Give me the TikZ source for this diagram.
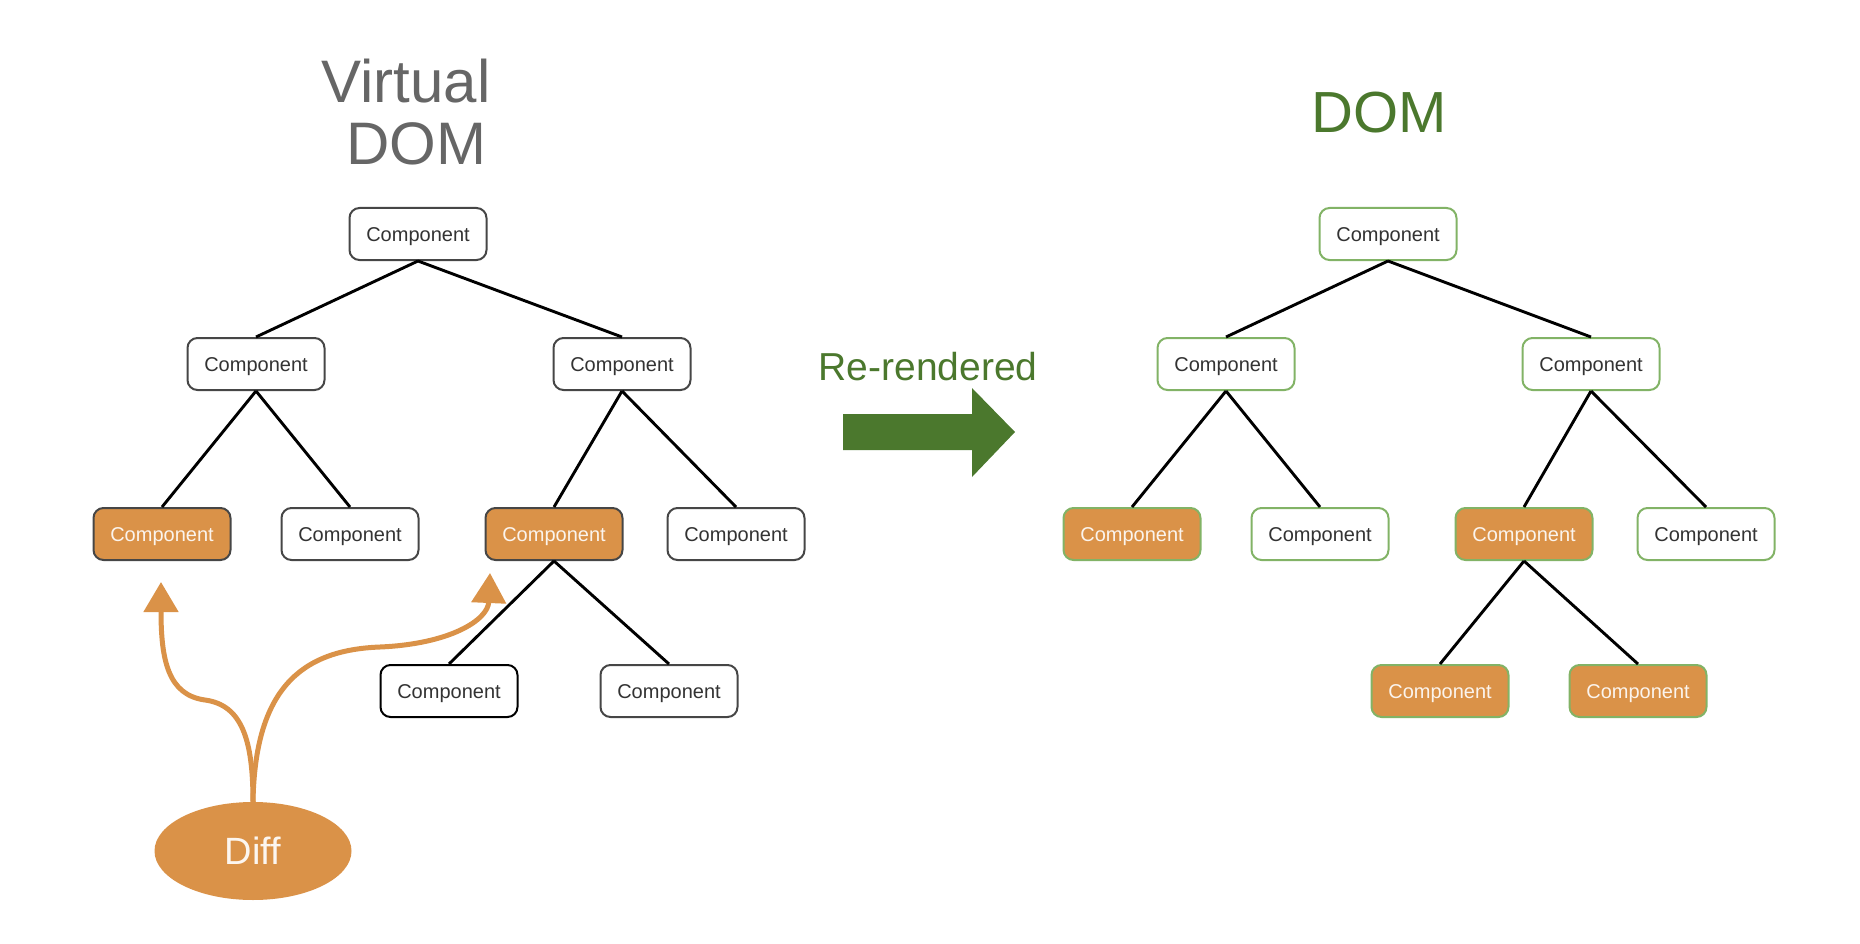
\documentclass[tikz,border=0pt]{standalone}
\usepackage{fontspec}
\setmainfont{Liberation Sans}
\usetikzlibrary{arrows.meta,shapes.geometric}
\definecolor{diffor}{RGB}{218,146,72}
\definecolor{domgreen}{RGB}{75,120,45}
\definecolor{boxgreen}{RGB}{130,179,102}
\definecolor{boxgray}{RGB}{70,70,70}
\definecolor{txtgray}{RGB}{51,51,51}
\definecolor{titlegray}{RGB}{102,102,102}

\begin{document}
\begin{tikzpicture}[x=1pt,y=-1pt,
  comp/.style={draw=boxgray,line width=2pt,rounded corners=10pt,minimum width=137pt,minimum height=52pt,inner sep=0pt,text height=14.3pt,text depth=0pt,fill=white,text=txtgray,font=\fontsize{20}{24}\selectfont},
  hot/.style={fill=diffor,text=white!90!diffor},
  real/.style={comp,draw=boxgreen},
  edge/.style={line width=2.9pt,black},
  diffarrow/.style={draw=diffor,line width=5pt,-{Triangle[width=34pt,length=30pt]}}]
\useasboundingbox (0,0) rectangle (1860,944);
% titles
\node[anchor=base,text=titlegray,font=\fontsize{60}{62}\selectfont] (vtitle1) at (406,103) {Virtual};
\node[anchor=base,text=titlegray,font=\fontsize{60}{62}\selectfont] (vtitle2) at (416,165) {DOM};
\node[anchor=base,text=domgreen,font=\fontsize{58}{60}\selectfont] (dtitle) at (1379,133) {DOM};
% virtual dom tree
\node[comp] (vroot) at (418,234) {Component};
\node[comp] (va) at (256,364) {Component};\node[comp] (vb) at (622,364) {Component};
\node[comp,hot] (vaa) at (162,534) {Component};\node[comp] (vab) at (350,534) {Component};
\node[comp,hot] (vba) at (554,534) {Component};\node[comp] (vbb) at (736,534) {Component};
\node[comp,draw=black] (vbaa) at (449,691) {Component};\node[comp] (vbab) at (669,691) {Component};
\foreach \p/\c in {vroot/va,vroot/vb,va/vaa,va/vab,vb/vba,vb/vbb,vba/vbaa,vba/vbab} \draw[edge] (\p.south) -- (\c.north);
% real dom tree
\node[real] (droot) at (1388,234) {Component};
\node[real] (da) at (1226,364) {Component};\node[real] (db) at (1591,364) {Component};
\node[real,hot] (daa) at (1132,534) {Component};\node[real] (dab) at (1320,534) {Component};
\node[real,hot] (dba) at (1524,534) {Component};\node[real] (dbb) at (1706,534) {Component};
\node[real,hot] (dbaa) at (1440,691) {Component};\node[real,hot] (dbab) at (1638,691) {Component};
\foreach \p/\c in {droot/da,droot/db,da/daa,da/dab,db/dba,db/dbb,dba/dbaa,dba/dbab} \draw[edge] (\p.south) -- (\c.north);
% diff
\node[ellipse,fill=diffor,minimum width=197pt,minimum height=98pt,text height=27pt,text depth=0pt,text=white!92!diffor,font=\fontsize{38}{40}\selectfont] (diff) at (253,851) {Diff};
\coordinate (hitA) at (161,582);\coordinate (hitC) at (490,573);
\draw[diffarrow] (diff.north) .. controls (253,740) and (242,705) .. (205,700) .. controls (168,695) and (161,660) .. (hitA);
\draw[diffarrow] (diff.north) .. controls (255,690) and (300,650) .. (380,647) .. controls (450,644) and (488,620) .. (hitC);
% re-render arrow
\node[anchor=base,text=domgreen,font=\fontsize{39}{41}\selectfont] (rerender) at (928,380) {Re-rendered};
\fill[domgreen] (843,414) -- (972,414) -- (972,388) -- (1015,432) -- (972,477) -- (972,450) -- (843,450) -- cycle;
\end{tikzpicture}
\end{document}
